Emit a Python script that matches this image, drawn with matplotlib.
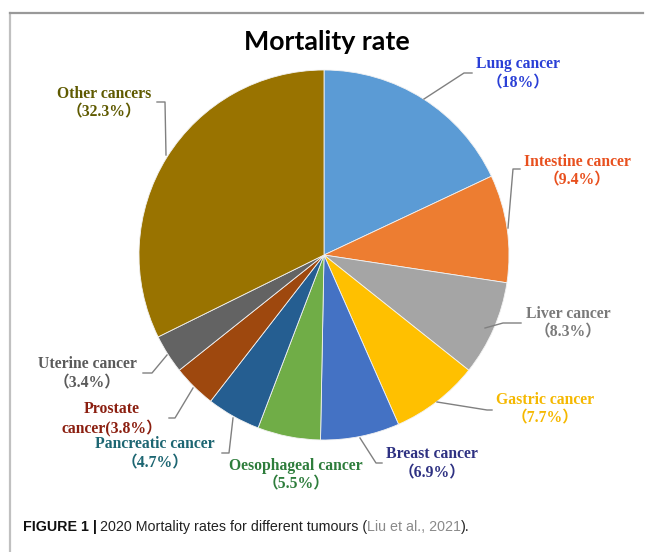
import matplotlib
matplotlib.use("Agg")
import matplotlib.pyplot as plt
from matplotlib.lines import Line2D

# ---- data ----
names = ["Lung cancer", "Intestine cancer", "Liver cancer", "Gastric cancer",
         "Breast cancer", "Oesophageal cancer", "Pancreatic cancer",
         "Prostate\ncancer", "Uterine cancer", "Other cancers"]
values = [18, 9.4, 8.3, 7.7, 6.9, 5.5, 4.7, 3.8, 3.4, 32.3]
wedge_colors = ["#5b9bd5", "#ed7d31", "#a5a5a5", "#ffc000", "#4472c4",
                "#70ad47", "#255e91", "#9e480e", "#636363", "#997300"]
label_colors = ["#2a3fd6", "#e8501e", "#7a7a7a", "#f5b800", "#2e3182",
                "#2e7d3c", "#1d6672", "#8b1f10", "#5a5a5a", "#5f5a00"]
label_fmt = ["{n}\n（{v}%）"] * 7 + ["{n}({v}%）", "{n}\n（{v}%）", "{n}\n（{v}%）"]
title = "Mortality rate"

# ---- layout (pixel coords, y from top) ----
W, H = 647, 552
label_pos = [(518, 74), (577, 171), (568, 323), (545, 409), (432, 464),
             (296, 475), (155, 454), (112, 419), (87, 374), (104, 103)]
leaders = [
    [(424, 99), (464, 73), (472, 73)],
    [(508, 228), (513, 169), (520, 169)],
    [(485, 328), (503, 323), (521, 323)],
    [(437, 402), (487, 410), (492, 410)],
    [(360, 438), (376, 463), (382, 463)],
    None,
    [(233, 418), (229, 453), (222, 453)],
    [(193, 388), (175, 418), (169, 418)],
    [(167, 355), (152, 373), (143, 373)],
    [(166, 155), (165, 102), (157, 102)],
]

fig = plt.figure(figsize=(W / 100, H / 100), dpi=100)
fig.patch.set_facecolor("white")
ax = fig.add_axes([0, 0, 1, 1])

ax.pie(values, colors=wedge_colors, startangle=90, counterclock=False,
       center=(324, H - 255), radius=185,
       wedgeprops=dict(edgecolor="#f2f2f2", linewidth=0.6))
ax.set_xlim(0, W)
ax.set_ylim(0, H)
ax.set_aspect("equal")
ax.axis("off")

serif = ["Liberation Serif", "Noto Sans CJK SC"]
for n, v, fmt, c, (x, y) in zip(names, values, label_fmt, label_colors, label_pos):
    ax.text(x, H - y, fmt.format(n=n, v=f"{v:g}"), color=c, family=serif,
            fontweight="bold", fontsize=11.3, ha="center", va="center",
            linespacing=1.25)

for pts in leaders:
    if pts is None:
        continue
    xs = [p[0] for p in pts]
    ys = [H - p[1] for p in pts]
    ax.plot(xs, ys, color="#808080", lw=1)

ax.text(327, H - 42, title, family="Lato", fontweight="bold", fontsize=19.3,
        ha="center", va="center", color="#000000")

# frame lines
fig.add_artist(Line2D([9.5 / W, 9.5 / W], [0, 1 - 13 / H], color="#c0c0c0", lw=1.6,
                      transform=fig.transFigure))
fig.add_artist(Line2D([9.5 / W, 643 / W], [1 - 13 / H, 1 - 13 / H], color="#999999",
                      lw=1.6, transform=fig.transFigure))

# caption
cap_y = H - 527
fs = 10.3
t1 = ax.text(23, cap_y, "FIGURE 1 |", family="Liberation Sans", fontweight="bold",
             fontsize=fs, ha="left", va="center", color="#111111")
fig.canvas.draw()
r = fig.canvas.get_renderer()
bb = t1.get_window_extent(r)
x2 = bb.x1 + 3
t2 = ax.text(x2, cap_y, "2020 Mortality rates for different tumours (", family="Liberation Sans",
             fontsize=fs, ha="left", va="center", color="#222222")
bb = t2.get_window_extent(r)
t3 = ax.text(bb.x1, cap_y, "Liu et al., 2021", family="Liberation Sans",
             fontsize=fs, ha="left", va="center", color="#8a8a8a")
bb = t3.get_window_extent(r)
ax.text(bb.x1, cap_y, ").", family="Liberation Sans",
        fontsize=fs, ha="left", va="center", color="#222222")

fig.savefig("out.png", dpi=100, facecolor="white")
